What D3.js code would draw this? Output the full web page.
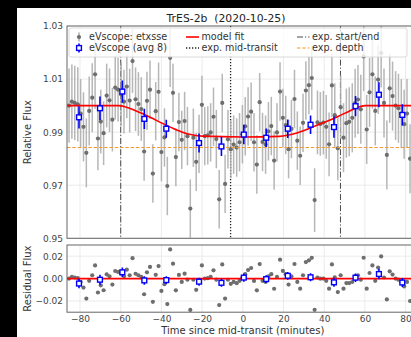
<!DOCTYPE html>
<html>
<head>
<meta charset="utf-8">
<script src="https://cdn.jsdelivr.net/npm/d3@7"></script>
<style>
  body { margin: 0; background: #000; }
  svg { display: block; font-family: "DejaVu Sans", sans-serif; }
</style>
</head>
<body>
<div id="chart"></div>
<script>
// raw eVscope points (minutes from expected mid-transit, relative flux)
const times = [-85.4, -84.0, -82.6, -81.1, -79.7, -78.3, -76.9, -75.5, -74.0, -72.6,
  -71.2, -69.8, -68.4, -66.9, -65.5, -64.1, -62.7, -61.3, -59.8, -58.4,
  -57.0, -55.6, -54.2, -52.7, -51.3, -49.9, -48.5, -47.1, -45.6, -44.2,
  -42.8, -41.4, -40.0, -38.5, -37.1, -35.7, -34.3, -32.9, -31.4, -30.0,
  -28.6, -27.2, -25.8, -24.3, -22.9, -21.5, -20.1, -18.7, -17.2, -15.8,
  -14.4, -13.0, -11.6, -10.1, -8.7, -7.3, -5.9, -4.5, -3.0, -1.6,
  -0.2, 1.2, 2.6, 4.1, 5.5, 6.9, 8.3, 9.7, 11.2, 12.6,
  14.0, 15.4, 16.8, 18.3, 19.7, 21.1, 22.5, 23.9, 25.4, 26.8,
  28.2, 29.6, 31.0, 32.5, 33.9, 35.3, 36.7, 38.1, 39.6, 41.0,
  42.4, 43.8, 45.2, 46.7, 48.1, 49.5, 50.9, 52.3, 53.8, 55.2,
  56.6, 58.0, 59.4, 60.9, 62.3, 63.7, 65.1, 66.5, 68.0, 69.4,
  70.8, 72.2, 73.6, 75.1, 76.5, 77.9, 79.3, 80.7, 82.2, 83.6, 85.0];
const flux = [1.0000, 1.0015, 1.0010, 1.0005, 0.9970, 0.9920, 0.9822, 0.9980, 1.0030, 1.0118,
  0.9876, 0.9940, 0.9896, 1.0038, 1.0020, 0.9947, 1.0068, 1.0060, 1.0042, 1.0015,
  1.0072, 1.0019, 1.0168, 1.0024, 1.0006, 0.9987, 0.9827, 1.0018, 1.0060, 0.9744,
  0.9979, 1.0052, 0.9825, 0.9880, 0.9697, 1.0180, 1.0048, 0.9806, 0.9938, 0.9871,
  0.9942, 0.9885, 0.9612, 0.9879, 0.9788, 0.9856, 1.0003, 0.9885, 0.9888, 0.9899,
  0.9958, 0.9874, 0.9647, 1.0010, 0.9705, 0.9873, 0.9836, 0.9853, 0.9842, 0.9862,
  0.9892, 0.9922, 0.9959, 0.9977, 0.9862, 0.9778, 1.0013, 0.9863, 0.9853, 0.9903,
  0.9923, 0.9793, 0.9899, 1.0053, 0.9954, 0.9927, 0.9836, 0.9912, 1.0025, 0.9868,
  0.9811, 0.9935, 1.0057, 1.0077, 1.0104, 0.9644, 0.9937, 0.9931, 0.9936, 0.9920,
  0.9854, 1.0076, 0.9964, 0.9839, 0.9994, 0.9879, 0.9934, 0.9939, 0.9954, 1.0009,
  1.0023, 0.9986, 1.0185, 0.9910, 1.0050, 1.0118, 0.9980, 1.0098, 1.0198, 1.0010,
  0.9814, 1.0065, 1.0036, 1.0000, 0.9990, 0.9970, 0.9930, 0.9970, 0.9800, 0.9980, 1.0000];
const fluxErr = [0.014, 0.014, 0.014, 0.014, 0.013, 0.013, 0.013, 0.013, 0.013, 0.013,
  0.012, 0.012, 0.012, 0.012, 0.012, 0.012, 0.012, 0.012, 0.012, 0.012,
  0.012, 0.012, 0.012, 0.012, 0.012, 0.012, 0.011, 0.011, 0.011, 0.011,
  0.011, 0.011, 0.011, 0.011, 0.011, 0.011, 0.011, 0.011, 0.011, 0.011,
  0.011, 0.011, 0.011, 0.011, 0.011, 0.011, 0.011, 0.011, 0.011, 0.011,
  0.011, 0.011, 0.011, 0.011, 0.011, 0.011, 0.011, 0.011, 0.011, 0.011,
  0.011, 0.011, 0.011, 0.011, 0.011, 0.011, 0.011, 0.011, 0.011, 0.011,
  0.011, 0.011, 0.011, 0.011, 0.011, 0.011, 0.011, 0.011, 0.011, 0.011,
  0.011, 0.011, 0.011, 0.011, 0.012, 0.012, 0.012, 0.012, 0.012, 0.012,
  0.012, 0.012, 0.012, 0.012, 0.012, 0.013, 0.013, 0.013, 0.013, 0.013,
  0.013, 0.013, 0.013, 0.013, 0.013, 0.013, 0.013, 0.013, 0.013, 0.013,
  0.013, 0.013, 0.013, 0.013, 0.013, 0.013, 0.013, 0.013, 0.013, 0.013, 0.013];

// binned points (avg 8)
const binTimes = [-80.5, -70.2, -59.2, -48.4, -37.6, -21.5, -10.5, 0.5, 11.5, 22.1, 33.3, 44.8, 55.4, 66.9, 78.4];
const binFlux = [0.9956, 0.9990, 1.0053, 0.9950, 0.9913, 0.9859, 0.9846, 0.9891, 0.9879, 0.9913, 0.9928, 0.9919, 0.9998, 1.0041, 0.9965];
const binErr = [0.0042, 0.0044, 0.0042, 0.0038, 0.0034, 0.0036, 0.0036, 0.0037, 0.0035, 0.0035, 0.0035, 0.0040, 0.0038, 0.0047, 0.0040];

// fitted model
const modelTimes = [-87, -61, -55, -50, -45, -40, -35, -30, -25, -20, 0, 18, 22, 27, 32, 37, 42, 47, 52, 56, 60, 87];
const modelFlux = [1.0, 1.0, 0.9988, 0.9972, 0.9954, 0.9935, 0.9917, 0.9901, 0.9890, 0.9885, 0.9882, 0.9884,
  0.9888, 0.9898, 0.9912, 0.9928, 0.9943, 0.9960, 0.9978, 0.9992, 1.0, 1.0];

// expected ephemeris
const expStart = -60, expMid = -6, expEnd = 48;
const expDepth = 0.9842;

const xTicks = [-80, -60, -40, -20, 0, 20, 40, 60, 80];
const yTicks = [0.95, 0.97, 0.99, 1.01, 1.03];
const resTicks = [-0.02, 0.00, 0.02];

const W = 411, H = 337;
const left = 67, right = 418.6;
const mainTop = 26, mainBottom = 238.3;
const resTop = 245, resBottom = 312.2;

const grayDot = "#6e6e6e", grayBar = "#ababab", blue = "#0000ff", red = "#ff0000", orange = "#f39a2e";

let svg = d3.select("#chart").append("svg")
  .attr("width", W).attr("height", H);

// figure background (black border is outside the figure)
svg.append("rect").attr("width", W).attr("height", H).attr("fill", "#000");
svg.append("rect").attr("x", 17).attr("y", 8).attr("width", W).attr("height", H).attr("fill", "#fff");

let x = d3.scaleLinear().domain([-86.4, 86.4]).range([left, right]);
let y = d3.scaleLinear().domain([0.95, 1.03]).range([mainBottom, mainTop]);
let yRes = d3.scaleLinear().domain([-0.03, 0.03]).range([resBottom, resTop]);
let model = d3.scaleLinear().domain(modelTimes).range(modelFlux).clamp(true);

let pts = times.map((t, i) => ({ t: t, f: flux[i], e: fluxErr[i], r: flux[i] - model(t) }));
let bins = binTimes.map((t, i) => ({ t: t, f: binFlux[i], e: binErr[i], r: binFlux[i] - model(t) }));

let defs = svg.append("defs");
defs.append("clipPath").attr("id", "clipMain").append("rect")
  .attr("x", left).attr("y", mainTop).attr("width", right - left).attr("height", mainBottom - mainTop);
defs.append("clipPath").attr("id", "clipRes").append("rect")
  .attr("x", left).attr("y", resTop).attr("width", right - left).attr("height", resBottom - resTop);

function drawGrid(g, yScale, ticks, top, bottom) {
  g.selectAll(".vgrid").data(xTicks).enter().append("line")
    .attr("x1", d => x(d)).attr("x2", d => x(d))
    .attr("y1", top).attr("y2", bottom)
    .attr("stroke", "#e6e6e6").attr("stroke-width", 0.8);
  g.selectAll(".hgrid").data(ticks).enter().append("line")
    .attr("x1", left).attr("x2", right)
    .attr("y1", d => yScale(d)).attr("y2", d => yScale(d))
    .attr("stroke", "#e6e6e6").attr("stroke-width", 0.8);
}

// ---- main panel
let main = svg.append("g");
drawGrid(main, y, yTicks, mainTop, mainBottom);

let mainData = main.append("g").attr("clip-path", "url(#clipMain)");

// expected start/end and mid-transit
mainData.selectAll(".exp").data([expStart, expEnd]).enter().append("line")
  .attr("x1", d => x(d)).attr("x2", d => x(d))
  .attr("y1", mainTop).attr("y2", mainBottom)
  .attr("stroke", "#333").attr("stroke-width", 0.9)
  .attr("stroke-dasharray", "6,2,1.2,2");
mainData.append("line")
  .attr("x1", x(expMid)).attr("x2", x(expMid))
  .attr("y1", mainTop).attr("y2", mainBottom)
  .attr("stroke", "#222").attr("stroke-width", 1.3)
  .attr("stroke-dasharray", "1.3,1.7");

// raw points with error bars
mainData.selectAll(".ebar").data(pts).enter().append("line")
  .attr("x1", d => x(d.t)).attr("x2", d => x(d.t))
  .attr("y1", d => y(d.f - d.e)).attr("y2", d => y(d.f + d.e))
  .attr("stroke", grayBar).attr("stroke-width", 1.5).attr("opacity", 0.85);
mainData.selectAll(".dot").data(pts).enter().append("circle")
  .attr("cx", d => x(d.t)).attr("cy", d => y(d.f)).attr("r", 2.1)
  .attr("fill", grayDot);

// expected depth sits over the points
mainData.append("line")
  .attr("x1", left).attr("x2", right)
  .attr("y1", y(expDepth)).attr("y2", y(expDepth))
  .attr("stroke", orange).attr("stroke-width", 1.1)
  .attr("stroke-dasharray", "3.5,1.8");

// model fit
mainData.append("path")
  .datum(modelTimes.map((t, i) => [t, modelFlux[i]]))
  .attr("d", d3.line().x(d => x(d[0])).y(d => y(d[1])).curve(d3.curveMonotoneX))
  .attr("fill", "none").attr("stroke", red).attr("stroke-width", 1.6);

function drawBins(g, yScale, key) {
  g.selectAll(".bbar").data(bins).enter().append("line")
    .attr("x1", d => x(d.t)).attr("x2", d => x(d.t))
    .attr("y1", d => yScale(d[key] - d.e)).attr("y2", d => yScale(d[key] + d.e))
    .attr("stroke", blue).attr("stroke-width", 1.6);
  g.selectAll(".bsq").data(bins).enter().append("rect")
    .attr("x", d => x(d.t) - 2.4).attr("y", d => yScale(d[key]) - 2.4)
    .attr("width", 4.8).attr("height", 4.8)
    .attr("fill", "#fff").attr("stroke", blue).attr("stroke-width", 1.4);
}
drawBins(mainData, y, "f");

// ---- residual panel
let res = svg.append("g");
drawGrid(res, yRes, resTicks, resTop, resBottom);
let resData = res.append("g").attr("clip-path", "url(#clipRes)");
resData.selectAll(".dot").data(pts).enter().append("circle")
  .attr("cx", d => x(d.t)).attr("cy", d => yRes(d.r)).attr("r", 2.1)
  .attr("fill", grayDot);
resData.append("line")
  .attr("x1", left).attr("x2", right).attr("y1", yRes(0)).attr("y2", yRes(0))
  .attr("stroke", red).attr("stroke-width", 1.6);
drawBins(resData, yRes, "r");

// frames
[[mainTop, mainBottom], [resTop, resBottom]].forEach(p => {
  svg.append("rect").attr("x", left).attr("y", p[0])
    .attr("width", right - left).attr("height", p[1] - p[0])
    .attr("fill", "none").attr("stroke", "#666").attr("stroke-width", 1);
});

// axes (no tick marks, only labels)
function styleAxis(g) {
  g.select(".domain").remove();
  g.selectAll("text").attr("fill", "#444").style("font-size", "9px")
    .style("font-family", "DejaVu Sans, sans-serif");
}
svg.append("g").attr("transform", "translate(" + left + ",0)")
  .call(d3.axisLeft(y).tickValues(yTicks).tickFormat(d3.format(".2f")).tickSize(0).tickPadding(4))
  .call(styleAxis);
svg.append("g").attr("transform", "translate(" + left + ",0)")
  .call(d3.axisLeft(yRes).tickValues(resTicks).tickFormat(d3.format(".2f")).tickSize(0).tickPadding(4))
  .call(styleAxis);
svg.append("g").attr("transform", "translate(0," + resBottom + ")")
  .call(d3.axisBottom(x).tickValues(xTicks).tickFormat(d3.format("d")).tickSize(0).tickPadding(3.5))
  .call(styleAxis);

// labels
svg.append("text").attr("x", 226).attr("y", 22.3).attr("text-anchor", "middle")
  .style("font-size", "10.8px").style("white-space", "pre").attr("fill", "#222")
  .text("TrES-2b  (2020-10-25)");
svg.append("text").attr("transform", "translate(31," + ((mainTop + mainBottom) / 2) + ") rotate(-90)")
  .attr("text-anchor", "middle").style("font-size", "10px").attr("fill", "#333").text("Relative Flux");
svg.append("text").attr("transform", "translate(31," + ((resTop + resBottom) / 2) + ") rotate(-90)")
  .attr("text-anchor", "middle").style("font-size", "10px").attr("fill", "#333").text("Residual Flux");
svg.append("text").attr("x", (left + right) / 2).attr("y", 334).attr("text-anchor", "middle")
  .style("font-size", "10px").attr("fill", "#333").text("Time since mid-transit (minutes)");

// ---- legend
let legend = svg.append("g");
legend.append("rect").attr("x", 69).attr("y", 28).attr("width", 338).attr("height", 29).attr("rx", 2)
  .attr("fill", "#fff").attr("fill-opacity", 0.8).attr("stroke", "#d0d0d0").attr("stroke-width", 0.8);
const row1 = 37, row2 = 48;
// col 1
legend.append("line").attr("x1", 79).attr("x2", 79).attr("y1", row1 - 4.5).attr("y2", row1 + 4.5)
  .attr("stroke", grayBar).attr("stroke-width", 1.5);
legend.append("circle").attr("cx", 79).attr("cy", row1).attr("r", 2.1).attr("fill", grayDot);
legend.append("line").attr("x1", 79).attr("x2", 79).attr("y1", row2 - 4.5).attr("y2", row2 + 4.5)
  .attr("stroke", blue).attr("stroke-width", 1.6);
legend.append("rect").attr("x", 76.6).attr("y", row2 - 2.4).attr("width", 4.8).attr("height", 4.8)
  .attr("fill", "#fff").attr("stroke", blue).attr("stroke-width", 1.4);
// col 2
legend.append("line").attr("x1", 186).attr("x2", 199).attr("y1", row1).attr("y2", row1)
  .attr("stroke", red).attr("stroke-width", 1.6);
legend.append("line").attr("x1", 186).attr("x2", 199).attr("y1", row2).attr("y2", row2)
  .attr("stroke", "#222").attr("stroke-width", 1.3).attr("stroke-dasharray", "1.3,1.7");
// col 3
legend.append("line").attr("x1", 297).attr("x2", 309.5).attr("y1", row1).attr("y2", row1)
  .attr("stroke", "#333").attr("stroke-width", 0.9).attr("stroke-dasharray", "6,2,1.2,2");
legend.append("line").attr("x1", 297).attr("x2", 309.5).attr("y1", row2).attr("y2", row2)
  .attr("stroke", orange).attr("stroke-width", 1.1).attr("stroke-dasharray", "3.5,1.8");

const legendItems = [
  { x: 89, y: row1, label: "eVscope: etxsse" },
  { x: 89, y: row2, label: "eVscope (avg 8)" },
  { x: 201.5, y: row1, label: "model fit" },
  { x: 201.5, y: row2, label: "exp. mid-transit" },
  { x: 312, y: row1, label: "exp. start/end" },
  { x: 312, y: row2, label: "exp. depth" }
];
legend.selectAll(".ltext").data(legendItems).enter().append("text")
  .attr("x", d => d.x).attr("y", d => d.y).attr("dy", "0.35em")
  .style("font-size", "9.6px").attr("fill", "#333").text(d => d.label);
</script>
</body>
</html>
